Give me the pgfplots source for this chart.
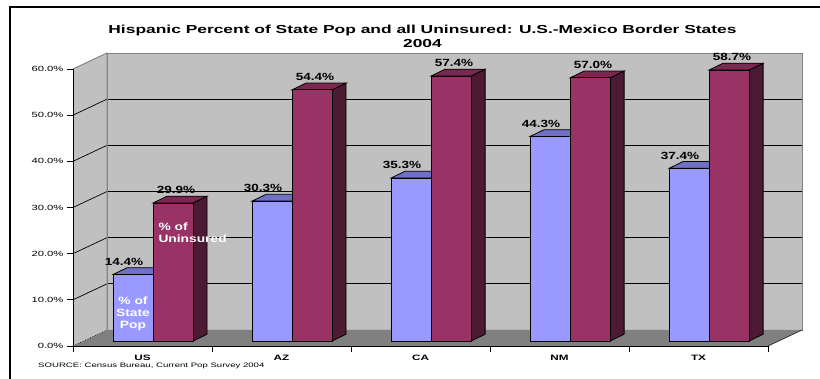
\documentclass[border=0pt]{standalone}
\usepackage{fontspec}
\setmainfont{Liberation Sans}[FakeStretch=1.5]
\newfontfamily\labfont{Liberation Sans}[FakeStretch=1.3]
\usepackage{pgfplots}
\usepackage{pgfplotstable}
\pgfplotsset{compat=1.18}
\pgfplotsset{/pgf/number format/assume math mode=true}
\definecolor{wall}{RGB}{192,192,192}
\definecolor{floorc}{RGB}{128,128,128}
\definecolor{bluefront}{RGB}{153,153,255}
\definecolor{bluetop}{RGB}{112,112,200}
\definecolor{redfront}{RGB}{153,51,102}
\definecolor{redtop}{RGB}{122,40,82}
\definecolor{redside}{RGB}{77,26,51}

\pgfplotstableread{
x pop unins
0 14.4 29.9
1 30.3 54.4
2 35.3 57.4
3 44.3 57.0
4 37.4 58.7
}\data

\def\bw{0.28777}
\def\bdx{0.1007}
\def\bdy{1.473}

\begin{document}
\begin{tikzpicture}[x=1pt,y=1pt]
\useasboundingbox (0,0) rectangle (820,379);
\fill[white] (0,0) rectangle (820,379);
\draw[line width=1.3pt] (10,-20) -- (10,372) -- (840,372);

% back wall
\begin{axis}[at={(107pt,49pt)}, anchor=south west, scale only axis,
  width=695pt, height=277pt,
  xmin=-0.5, xmax=4.5, ymin=0, ymax=60,
  axis background/.style={fill=wall},
  axis line style={draw=floorc, line width=0.9pt},
  xtick=\empty, ytick={10,20,30,40,50}, yticklabels={},
  major tick length=0pt, ymajorgrids,
  grid style={black, line width=0.7pt}]
\end{axis}

% left wall
\fill[wall] (73,33) -- (107,49) -- (107,326) -- (73,310) -- cycle;
\foreach \v in {10,20,30,40,50}{
  \draw[black, line width=0.7pt] (73,{33+\v*4.6167}) -- (107,{49+\v*4.6167});
}
\draw[floorc, line width=0.9pt] (73,310) -- (107,326) -- (107,49);
% floor
\fill[floorc] (73,33) -- (768,33) -- (802,49) -- (107,49) -- cycle;
\draw[black, line width=0.7pt, dotted] (73,33) -- (107,49);
\draw[black!80, line width=0.8pt] (768,33) -- (802,49);

% front axis
\begin{axis}[at={(73pt,33pt)}, anchor=south west, scale only axis,
  width=695pt, height=277pt,
  xmin=-0.5, xmax=4.5, ymin=0, ymax=60,
  axis x line*=bottom, axis y line*=left,
  axis line style={-, line width=0.8pt},
  xtick={-0.5,0.5,1.5,2.5,3.5,4.5}, x tick label as interval,
  xticklabels={US,AZ,CA,NM,TX},
  ytick={0,10,...,60}, tick align=outside, major tick length=6pt,
  tick style={black, line width=0.8pt},
  yticklabel={\pgfmathprintnumber[fixed,fixed zerofill,precision=1]{\tick}\%},
  yticklabel style={font=\fontsize{7.5}{9}\selectfont},
  xticklabel style={font=\bfseries\fontsize{7.8}{9}\selectfont}]
\end{axis}

% bars
\begin{axis}[at={(83.6pt,38pt)}, anchor=south west, scale only axis,
  width=695pt, height=277pt,
  xmin=-0.5, xmax=4.5, ymin=0, ymax=60, hide axis, clip=false]
\pgfplotsforeachungrouped \i in {0,...,4}{
  \pgfplotstablegetelem{\i}{pop}\of\data \let\vp\pgfplotsretval
  \pgfplotstablegetelem{\i}{unins}\of\data \let\vu\pgfplotsretval
  \pgfmathsetmacro\xa{\i-\bw}
  \pgfmathsetmacro\xb{\i+\bdx}
  \pgfmathsetmacro\xc{\i-\bw+\bdx}
  \pgfmathsetmacro\xd{\i+\bw}
  \pgfmathsetmacro\xe{\i+\bw+\bdx}
  \pgfmathsetmacro\vpt{\vp+\bdy}
  \pgfmathsetmacro\vut{\vu+\bdy}
  \edef\cmd{%
    \noexpand\addplot[draw=black, fill=bluetop, line width=0.8pt] coordinates {(\xa,\vp) (\i,\vp) (\xb,\vpt) (\xc,\vpt)} -- cycle;
    \noexpand\addplot[draw=black, fill=redside, line width=0.8pt] coordinates {(\xd,0) (\xe,\bdy) (\xe,\vut) (\xd,\vu)} -- cycle;
    \noexpand\addplot[draw=black, fill=redtop, line width=0.8pt] coordinates {(\i,\vu) (\xd,\vu) (\xe,\vut) (\xb,\vut)} -- cycle;
  }%
  \cmd
}
\addplot[ybar, bar width=40pt, bar shift=-20pt, fill=bluefront, draw=black, line width=0.8pt,
  nodes near coords={\pgfmathprintnumber[fixed,fixed zerofill,precision=1]{\pgfplotspointmeta}\%},
  every node near coord/.append style={anchor=center, yshift=12.7pt, xshift=-29pt,
    font=\labfont\bfseries\fontsize{10.4}{12}\selectfont, black}]
  table[x=x, y=pop]{\data};
\addplot[ybar, bar width=40pt, bar shift=20pt, fill=redfront, draw=black, line width=0.8pt,
  nodes near coords={\pgfmathprintnumber[fixed,fixed zerofill,precision=1]{\pgfplotspointmeta}\%},
  every node near coord/.append style={anchor=center, yshift=12.7pt, xshift=23pt,
    font=\labfont\bfseries\fontsize{10.4}{12}\selectfont, black}]
  table[x=x, y=unins]{\data};
\end{axis}

% in-bar labels
\node[white, font=\labfont\bfseries\fontsize{10.6}{12}\selectfont, align=center] at (133,65.3) {\% of\\State\\Pop};
\node[white, font=\labfont\bfseries\fontsize{10.6}{12}\selectfont, align=left, anchor=west] at (155,146.3) {\% of\\Uninsured};

% title
\node[font=\bfseries\fontsize{11.6}{14.4}\selectfont, anchor=base] at (422.5,345.7)
  {Hispanic Percent of State Pop and all Uninsured: U.S.-Mexico Border States};
\node[font=\bfseries\fontsize{11.6}{14.4}\selectfont, anchor=base] at (422.5,331.3) {2004};

% source
\node[font=\fontsize{6.4}{8}\selectfont, anchor=west, inner sep=0pt] at (38,13)
  {SOURCE: Census Bureau, Current Pop Survey 2004};
\end{tikzpicture}
\end{document}
